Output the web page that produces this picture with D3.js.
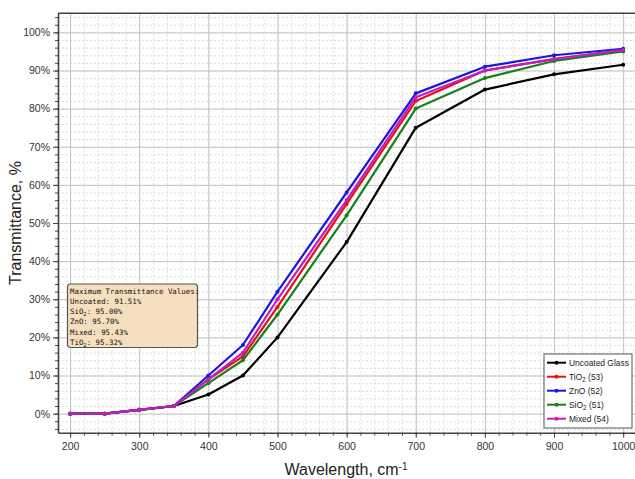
<!DOCTYPE html>
<html>
<head>
<meta charset="utf-8">
<script src="https://cdn.jsdelivr.net/npm/d3@7"></script>
<style>
  body { margin: 0; background: #fff; }
  svg { display: block; }
  .grid-major line { stroke: #c4c4c4; stroke-width: 1; }
  .grid-minor line { stroke: #d2d2d2; stroke-width: 0.8; stroke-dasharray: 2,2; }
  .axis path, .axis line { stroke: #444; }
  .axis text { fill: #333; font-family: "Liberation Sans", Arial, sans-serif; font-size: 10.5px; }
</style>
</head>
<body>
<div id="chart"></div>
<script>
// -----------------------------------------------------------------------------
// Data
// -----------------------------------------------------------------------------

var wavelengths = [200, 250, 300, 350, 400, 450, 500, 600, 700, 800, 900, 1000];

var uncoated = [0, 0, 1, 2, 5, 10, 20, 45, 75, 85, 89, 91.5];
var tio2     = [0, 0, 1, 2, 9, 15, 28, 55, 82, 90, 93, 95.3];
var zno      = [0, 0, 1, 2, 10, 18, 32, 58, 84, 91, 94, 95.7];
var sio2     = [0, 0, 1, 2, 8, 14, 26, 52, 80, 88, 92.5, 95];
var mixed    = [0, 0, 1, 2, 9, 16, 30, 56, 83, 90, 93, 95.4];

var seriesNames = ["Uncoated Glass", "TiO2 (53)", "ZnO (52)", "SiO2 (51)", "Mixed (54)"];
var seriesColors = ["#000000", "#e81010", "#1818e0", "#17801a", "#c21cc2"];
var seriesValues = [uncoated, tio2, zno, sio2, mixed];

var xTicks = [200, 300, 400, 500, 600, 700, 800, 900, 1000];
var yTicks = [0, 10, 20, 30, 40, 50, 60, 70, 80, 90, 100];

var noteLines = [
  "Maximum Transmittance Values:",
  "Uncoated: 91.51%",
  "SiO2: 95.00%",
  "ZnO: 95.70%",
  "Mixed: 95.43%",
  "TiO2: 95.32%"
];

// -----------------------------------------------------------------------------
// Chart
// -----------------------------------------------------------------------------

var W = 635, H = 479;
var plotLeft = 58, plotTop = 13.3, plotRight = 637, plotBottom = 432.7;

var svg = d3.select("#chart").append("svg")
    .attr("width", W)
    .attr("height", H);

var xScale = d3.scaleLinear().domain([182.5, 1020]).range([plotLeft, plotRight]);
var yScale = d3.scaleLinear().domain([-5, 105]).range([plotBottom, plotTop]);

// writes text where a "2" after O becomes a subscript
function subText(sel, str) {
  var parts = str.split(/(O2)/);
  parts.forEach(function(p) {
    if (p === "O2") {
      sel.append("tspan").text("O");
      sel.append("tspan").attr("baseline-shift", "-25%").attr("font-size", "75%").text("2");
    } else if (p.length) {
      sel.append("tspan").text(p);
    }
  });
}

var xMinor = d3.range(200, 1001, 20);
var yMinor = d3.range(-4, 105, 2);
var plotH = plotBottom - plotTop, plotW = plotRight - plotLeft;

function noDomain(g) { g.select(".domain").remove(); }

svg.append("g")
    .attr("class", "grid-minor")
    .attr("transform", "translate(0," + plotBottom + ")")
    .call(d3.axisBottom(xScale).tickValues(xMinor).tickSize(-plotH).tickFormat(""))
    .call(noDomain);

svg.append("g")
    .attr("class", "grid-minor")
    .attr("transform", "translate(" + plotLeft + ",0)")
    .call(d3.axisLeft(yScale).tickValues(yMinor).tickSize(-plotW).tickFormat(""))
    .call(noDomain);

svg.append("g")
    .attr("class", "grid-major")
    .attr("transform", "translate(0," + plotBottom + ")")
    .call(d3.axisBottom(xScale).tickValues(xTicks).tickSize(-plotH).tickFormat(""))
    .call(noDomain);

svg.append("g")
    .attr("class", "grid-major")
    .attr("transform", "translate(" + plotLeft + ",0)")
    .call(d3.axisLeft(yScale).tickValues(yTicks).tickSize(-plotW).tickFormat(""))
    .call(noDomain);

// minor ticks
svg.append("g")
    .attr("class", "axis")
    .attr("transform", "translate(0," + plotBottom + ")")
    .call(d3.axisBottom(xScale).tickValues(xMinor).tickSize(3).tickFormat(""))
    .call(noDomain);

svg.append("g")
    .attr("class", "axis")
    .attr("transform", "translate(" + plotLeft + ",0)")
    .call(d3.axisLeft(yScale).tickValues(yMinor).tickSize(3).tickFormat(""))
    .call(noDomain);

// major axes
svg.append("g")
    .attr("class", "axis")
    .attr("transform", "translate(0," + plotBottom + ")")
    .call(d3.axisBottom(xScale).tickValues(xTicks).tickSize(5).tickSizeOuter(0).tickPadding(5)
        .tickFormat(d3.format("d")))
    .call(function(g) { g.select(".domain").attr("stroke-width", 1.6); });

svg.append("g")
    .attr("class", "axis")
    .attr("transform", "translate(" + plotLeft + ",0)")
    .call(d3.axisLeft(yScale).tickValues(yTicks).tickSize(5).tickSizeOuter(0).tickPadding(3)
        .tickFormat(function(d) { return d + "%"; }))
    .call(function(g) { g.select(".domain").attr("stroke-width", 1.6); });

// top border
svg.append("line")
    .attr("x1", plotLeft).attr("x2", plotRight)
    .attr("y1", plotTop).attr("y2", plotTop)
    .attr("stroke", "#444").attr("stroke-width", 1.6);

// axis titles
svg.append("text")
    .attr("transform", "translate(21," + ((plotTop + plotBottom) / 2) + ") rotate(-90)")
    .attr("text-anchor", "middle")
    .attr("font-family", "Liberation Sans, Arial, sans-serif")
    .attr("font-size", 16)
    .attr("fill", "#222")
    .text("Transmittance, %");

var xt = svg.append("text")
    .attr("x", 346).attr("y", 475)
    .attr("text-anchor", "middle")
    .attr("font-family", "Liberation Sans, Arial, sans-serif")
    .attr("font-size", 16)
    .attr("fill", "#222");
xt.append("tspan").text("Wavelength, cm");
xt.append("tspan").attr("baseline-shift", "super").attr("font-size", 10).text("-1");

// lines
var line = d3.line()
    .x(function(d, i) { return xScale(wavelengths[i]); })
    .y(function(d) { return yScale(d); });

seriesValues.forEach(function(vals, k) {
  svg.append("path")
      .datum(vals)
      .attr("fill", "none")
      .attr("stroke", seriesColors[k])
      .attr("stroke-width", 2.2)
      .attr("stroke-linejoin", "round")
      .attr("d", line);

  svg.selectAll(null)
      .data(vals)
      .enter().append("circle")
      .attr("cx", function(d, i) { return xScale(wavelengths[i]); })
      .attr("cy", function(d) { return yScale(d); })
      .attr("r", 2)
      .attr("fill", seriesColors[k]);
});

// annotation box
var note = svg.append("g").attr("transform", "translate(67.5,284)");
note.append("rect")
    .attr("width", 130).attr("height", 63.5)
    .attr("rx", 3)
    .attr("fill", "#f6dfbf")
    .attr("stroke", "#555")
    .attr("stroke-width", 1.2);

noteLines.forEach(function(s, i) {
  var t = note.append("text")
      .attr("x", 2.5)
      .attr("y", 9.5 + i * 10.3)
      .attr("font-family", "DejaVu Sans Mono, monospace")
      .attr("font-size", 7.4)
      .attr("fill", "#111");
  subText(t, s);
});

// legend
var legend = svg.append("g").attr("transform", "translate(544,354)");
legend.append("rect")
    .attr("width", 88).attr("height", 74)
    .attr("fill", "#fff")
    .attr("stroke", "#555")
    .attr("stroke-width", 1);

seriesNames.forEach(function(name, i) {
  var yy = 8.7 + i * 14;
  legend.append("line")
      .attr("x1", 3).attr("x2", 22)
      .attr("y1", yy).attr("y2", yy)
      .attr("stroke", seriesColors[i])
      .attr("stroke-width", 2);
  legend.append("circle")
      .attr("cx", 12.5).attr("cy", yy).attr("r", 2)
      .attr("fill", seriesColors[i]);
  var t = legend.append("text")
      .attr("transform", "translate(25," + (yy + 3.4) + ") scale(0.86,1)")
      .attr("font-family", "Liberation Sans, Arial, sans-serif")
      .attr("font-size", 9.8)
      .attr("fill", "#222");
  subText(t, name);
});
</script>
</body>
</html>
